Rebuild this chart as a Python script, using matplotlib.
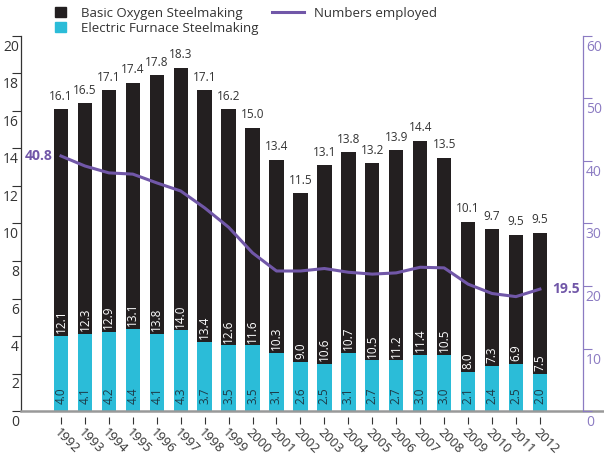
import matplotlib.pyplot as plt
import matplotlib.transforms as mtransforms
from matplotlib.patches import Patch
from matplotlib.lines import Line2D
import numpy as np

plt.rcParams['font.family'] = ['Open Sans', 'DejaVu Sans']

# data
years = [str(y) for y in range(1992, 2013)]
eaf = [4.0, 4.1, 4.2, 4.4, 4.1, 4.3, 3.7, 3.5, 3.5, 3.1, 2.6,
       2.5, 3.1, 2.7, 2.7, 3.0, 3.0, 2.1, 2.4, 2.5, 2.0]
bof = [12.1, 12.3, 12.9, 13.1, 13.8, 14.0, 13.4, 12.6, 11.6, 10.3, 9.0,
       10.6, 10.7, 10.5, 11.2, 11.4, 10.5, 8.0, 7.3, 6.9, 7.5]
totals = [16.1, 16.5, 17.1, 17.4, 17.8, 18.3, 17.1, 16.2, 15.0, 13.4, 11.5,
          13.1, 13.8, 13.2, 13.9, 14.4, 13.5, 10.1, 9.7, 9.5, 9.5]
employed = [40.8, 39.2, 38.1, 37.9, 36.5, 35.2, 32.5, 29.4, 25.3, 22.4, 22.4,
            22.8, 22.2, 21.9, 22.1, 23.0, 22.9, 20.3, 18.8, 18.3, 19.5]

black = '#231f20'
cyan = '#2bbcd8'
purple = '#7157a8'
purple_ax = '#8b7bc2'
grey = '#333333'

fig = plt.figure(figsize=(6.04, 4.57), dpi=100)
ax = fig.add_axes([21/604, 46/457, 562/604, 375/457])
ax2 = ax.twinx()

# spines first (set_position resets the ticks)
for a in (ax, ax2):
    a.spines['top'].set_visible(False)
    a.spines['bottom'].set_visible(False)
ax.spines['right'].set_visible(False)
ax2.spines['left'].set_visible(False)
ax.spines['left'].set_color(grey)
ax.spines['left'].set_linewidth(0.9)
ax2.spines['right'].set_color(purple_ax)
ax2.spines['right'].set_linewidth(0.9)
ax.spines['bottom'].set_position(('outward', 4))

x = np.arange(len(years))
w = 0.6
ax.bar(x, eaf, w, color=cyan, zorder=2)
ax.bar(x, bof, w, bottom=eaf, color=black, zorder=2)

for i in range(len(years)):
    ax.text(x[i], eaf[i] + bof[i] + 0.35, f'{totals[i]:.1f}', ha='center', va='bottom',
            fontsize=8.5, color=grey)
    ax.text(x[i], eaf[i] + 0.15, f'{bof[i]:.1f}', ha='center', va='bottom',
            rotation=90, fontsize=8.5, color='white')
    ax.text(x[i], 0.4, f'{eaf[i]:.1f}', ha='center', va='bottom',
            rotation=90, fontsize=8.5, color='#1d3b48')

ax2.plot(x, employed, color=purple, lw=2.2, zorder=3)
ax2.text(x[0] - 0.35, employed[0], f'{employed[0]:.1f}', ha='right', va='center',
         fontsize=10, fontweight='bold', color=purple)
ax2.text(x[-1] + 0.5, employed[-1], f'{employed[-1]:.1f}', ha='left', va='center',
         fontsize=10, fontweight='bold', color=purple)

ax.set_xlim(-1.67, len(years) - 1 + 1.8)
ax.set_ylim(0, 20)
ax2.set_ylim(0, 60)

ax.set_yticks(np.arange(0, 21, 2))
ax2.set_yticks(np.arange(0, 61, 10))
ax.set_xticks(x)
ax.set_xticklabels(years)

ax.tick_params(axis='y', length=6.5, width=0.8, color=grey, labelcolor=grey,
               pad=-5, labelsize=10)
ax2.tick_params(axis='y', length=6.5, width=0.8, color=purple_ax,
                labelcolor=purple_ax, pad=-4.5, labelsize=10)
ax.tick_params(axis='x', length=5, width=0.8, color=grey, labelcolor=grey,
               pad=2, labelsize=9.3)
for lab in ax.get_xticklabels():
    lab.set_rotation(-45)
    lab.set_rotation_mode('anchor')
    lab.set_ha('left')
    lab.set_va('top')

off = mtransforms.ScaledTranslation(0, -0.095, fig.dpi_scale_trans)
for lab in ax.get_yticklabels() + ax2.get_yticklabels():
    lab.set_transform(lab.get_transform() + off)

ax.axhline(0, xmin=0, xmax=1.04, color='#999999', lw=1.8, clip_on=False, zorder=4)

leg1 = fig.legend(handles=[Patch(color=black), Patch(color=cyan)],
                  labels=['Basic Oxygen Steelmaking', 'Electric Furnace Steelmaking'],
                  loc='upper left', bbox_to_anchor=(55/604, 1 - 7/457),
                  frameon=False, fontsize=9.5, handlelength=0.8, handleheight=0.8,
                  handletextpad=1.15, labelspacing=0.12, borderpad=0, borderaxespad=0,
                  labelcolor=grey)
leg2 = fig.legend(handles=[Line2D([], [], color=purple, lw=2.2)],
                  labels=['Numbers employed'],
                  loc='upper left', bbox_to_anchor=(272/604, 1 - 7/457),
                  frameon=False, fontsize=9.5, handlelength=2.4,
                  handletextpad=0.8, borderpad=0, borderaxespad=0, labelcolor=grey)

fig.savefig('out.png', dpi=100)
